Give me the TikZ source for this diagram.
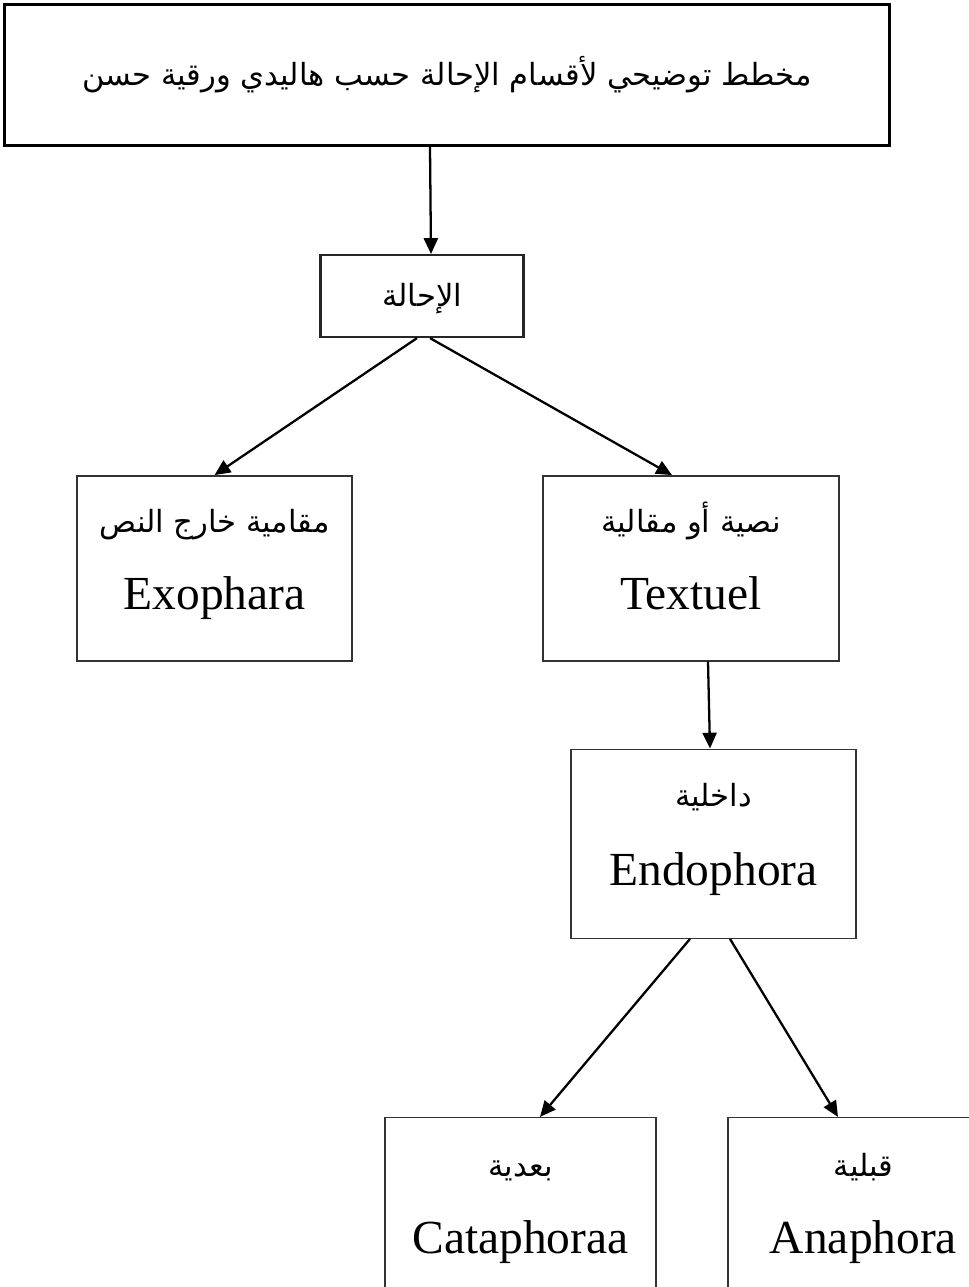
\documentclass[tikz,border=0pt]{standalone}
\usepackage{fontspec}
\setmainfont{Liberation Serif}
\newfontfamily\arabicfont[Script=Arabic]{DejaVu Sans}
\TeXXeTstate=1
\usepackage{xcolor}
\usepackage{tikz}
\usetikzlibrary{arrows.meta,positioning}

\newcommand{\artext}[1]{{\arabicfont\fontsize{17.4}{22}\selectfont\rule[-8pt]{0pt}{28pt}\beginR #1\endR}}
\newcommand{\latext}[1]{{\fontsize{27}{30}\selectfont\rule[-17pt]{0pt}{45pt}#1}}

\begin{document}
\begin{tikzpicture}[
  node distance=2.74cm and 1.0cm,
  headbox/.style={
    rectangle,
    draw=black,
    line width=1.7pt,
    align=center,
    minimum width=17.7cm,
    minimum height=2.82cm
  },
  rootbox/.style={
    rectangle,
    draw=black!85,
    line width=1.2pt,
    align=center,
    minimum width=4.06cm,
    minimum height=1.64cm
  },
  leafbox/.style={
    rectangle,
    draw=black!80,
    line width=0.8pt,
    align=center,
    minimum height=3.7cm
  },
  arrow/.style={-{Triangle[length=9pt,width=8pt]}, line width=1.3pt}
]
\useasboundingbox (0,0) rectangle (19.36,-25.74);

\node[headbox] (title) at (8.94,-1.5) {\artext{مخطط توضيحي لأقسام الإحالة حسب هاليدي ورقية حسن}};
\node[rootbox, below=2.14cm of title, xshift=-0.5cm] (ihala) {\artext{الإحالة}};

\node[leafbox, minimum width=5.5cm, below=of ihala, xshift=-4.15cm] (exo) {\artext{مقامية خارج النص}\\[7pt]\latext{Exophara}};
\node[leafbox, minimum width=5.92cm, below=of ihala, xshift=5.38cm] (textuel) {\artext{نصية أو مقالية}\\[7pt]\latext{Textuel}};

\node[leafbox, minimum width=5.7cm, minimum height=3.78cm, below=1.74cm of textuel, xshift=0.45cm] (endo) {\artext{داخلية}\\[8pt]\latext{Endophora}};

\node[leafbox, minimum width=5.42cm, minimum height=3.8cm, below=3.56cm of endo, xshift=-3.86cm] (cata) {\artext{بعدية}\\[7pt]\latext{Cataphoraa}};
\node[leafbox, minimum width=5.42cm, minimum height=3.8cm, below=3.56cm of endo, xshift=3.0cm] (ana) {\artext{قبلية}\\[7pt]\latext{Anaphora}};

\draw[arrow] ([xshift=-0.34cm]title.south) -- ([xshift=0.18cm]ihala.north);
\draw[arrow] ([xshift=-0.1cm]ihala.south) -- (exo.north);
\draw[arrow] ([xshift=0.16cm]ihala.south) -- ([xshift=-0.38cm]textuel.north);
\draw[arrow] ([xshift=0.34cm]textuel.south) -- ([xshift=-0.07cm]endo.north);
\draw[arrow] ([xshift=-0.47cm]endo.south) -- ([xshift=0.39cm]cata.north);
\draw[arrow] ([xshift=0.33cm]endo.south) -- ([xshift=-0.51cm]ana.north);

\end{tikzpicture}
\end{document}
